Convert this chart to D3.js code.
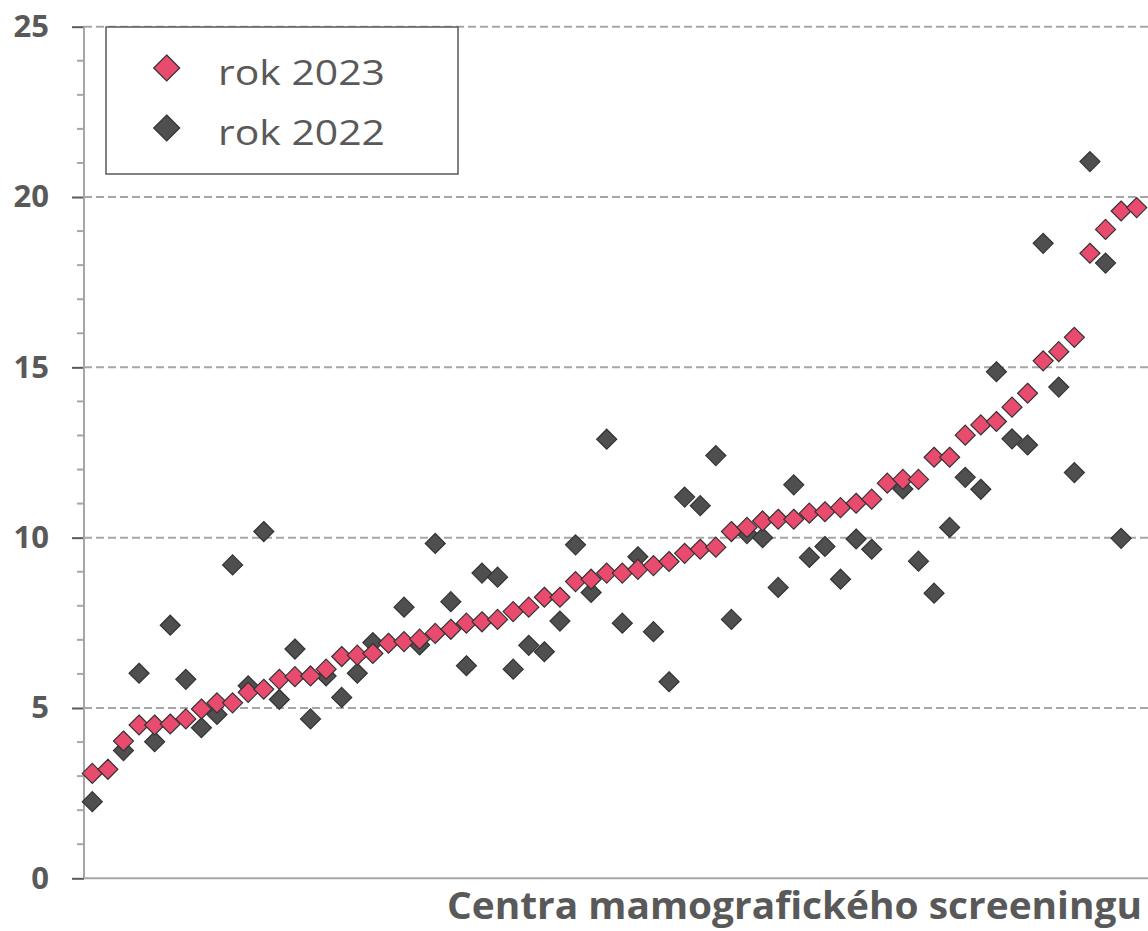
<!DOCTYPE html>
<html>
<head>
<meta charset="utf-8">
<script src="https://cdn.jsdelivr.net/npm/d3@7"></script>
<style>
  html, body { margin: 0; padding: 0; background: #ffffff; }
  svg { display: block; }
</style>
</head>
<body>
<svg id="chart" width="1148" height="931"></svg>
<script>
// ---- data ----
const centres = d3.range(68).map(i => "C" + (i + 1));
const series2023 = [3.08, 3.20, 4.03, 4.50, 4.50, 4.53, 4.68, 4.97, 5.15, 5.15,
  5.46, 5.55, 5.84, 5.92, 5.94, 6.14, 6.51, 6.55, 6.60, 6.90,
  6.95, 7.02, 7.19, 7.31, 7.49, 7.53, 7.60, 7.83, 7.96, 8.25,
  8.25, 8.71, 8.78, 8.96, 8.96, 9.07, 9.18, 9.30, 9.54, 9.66,
  9.72, 10.18, 10.30, 10.49, 10.54, 10.54, 10.72, 10.76, 10.88, 11.01,
  11.13, 11.60, 11.71, 11.71, 12.36, 12.36, 13.01, 13.31, 13.41, 13.83,
  14.24, 15.19, 15.46, 15.88, 18.35, 19.05, 19.59, 19.69];
const series2022 = [2.25, null, 3.75, 6.02, 4.01, 7.43, 5.84, 4.42, 4.81, 9.20,
  5.65, 10.18, 5.25, 6.73, 4.68, 5.94, 5.31, 6.02, 6.92, null,
  7.96, 6.85, 9.83, 8.12, 6.24, 8.96, 8.84, 6.14, 6.84, 6.65,
  7.55, 9.79, 8.39, 12.89, 7.49, 9.44, 7.24, 5.77, 11.19, 10.94,
  12.41, 7.60, 10.12, 10.00, 8.54, 11.55, 9.42, 9.74, 8.78, 9.96,
  9.66, null, 11.43, 9.31, 8.37, 10.30, 11.77, 11.42, 14.87, 12.90,
  12.72, 18.64, 14.42, 11.91, 21.04, 18.06, 9.98, null];
const yTicks = [0, 5, 10, 15, 20, 25];
const seriesNames = ["rok 2023", "rok 2022"];
const xTitle = "Centra mamografického screeningu";

// ---- styles ----
const pink = "#e94b6f";
const dark = "#4f4f4f";
const markerStroke = "#333333";
const textColor = "#595959";
const gridColor = "#a6a6a6";

const svg = d3.select("#chart");

const x = d3.scaleBand().domain(centres).range([84.5, 1144.5]);
const y = d3.scaleLinear().domain([0, 25]).range([878.3, 26.7]);
const cx = c => x(c) + x.bandwidth() / 2;

// gridlines
svg.append("g").selectAll("line").data(yTicks.filter(d => d > 0)).join("line")
  .attr("x1", 84).attr("x2", 1148)
  .attr("y1", d => y(d)).attr("y2", d => y(d))
  .attr("stroke", gridColor).attr("stroke-width", 2)
  .attr("stroke-dasharray", "8,4");

// minor ticks
svg.append("g").selectAll("line").data(d3.range(0, 26).filter(d => d % 5 !== 0)).join("line")
  .attr("x1", 77).attr("x2", 84)
  .attr("y1", d => y(d)).attr("y2", d => y(d))
  .attr("stroke", gridColor).attr("stroke-width", 2);

// y axis via d3.axisLeft
const yAxis = d3.axisLeft(y).tickValues(yTicks).tickSize(12).tickPadding(23).tickFormat(d3.format("d"));
const gy = svg.append("g").attr("transform", "translate(84,0)").call(yAxis);
gy.select(".domain").remove();
gy.selectAll(".tick line").attr("stroke", textColor).attr("stroke-width", 2);
gy.selectAll(".tick text")
  .attr("fill", textColor)
  .style("font-family", "'Open Sans', sans-serif")
  .style("font-weight", "700")
  .style("font-size", "31px");
svg.append("line").attr("x1", 84).attr("x2", 84).attr("y1", y(25)).attr("y2", y(0))
  .attr("stroke", gridColor).attr("stroke-width", 2);

// x axis line
svg.append("line").attr("x1", 84).attr("x2", 1148).attr("y1", y(0)).attr("y2", y(0))
  .attr("stroke", gridColor).attr("stroke-width", 2);

// x title
svg.append("text").text(xTitle)
  .attr("x", 447).attr("y", 919)
  .attr("textLength", 695).attr("lengthAdjust", "spacingAndGlyphs")
  .attr("fill", textColor)
  .style("font-family", "'Open Sans', sans-serif")
  .style("font-weight", "700")
  .style("font-size", "38px");

const diamond = r => `M0,${-r}L${r},0L0,${r}L${-r},0Z`;

// 2022 markers (below)
svg.append("g").selectAll("path")
  .data(centres.map((c, i) => ({ c, v: series2022[i] })).filter(d => d.v !== null))
  .join("path")
  .attr("d", diamond(10))
  .attr("transform", d => `translate(${cx(d.c)},${y(d.v)})`)
  .attr("fill", dark).attr("stroke", markerStroke).attr("stroke-width", 1.2);

// 2023 markers (on top)
svg.append("g").selectAll("path")
  .data(centres.map((c, i) => ({ c, v: series2023[i] })))
  .join("path")
  .attr("d", diamond(10))
  .attr("transform", d => `translate(${cx(d.c)},${y(d.v)})`)
  .attr("fill", pink).attr("stroke", markerStroke).attr("stroke-width", 1.2);

// legend
const lg = svg.append("g");
lg.append("rect").attr("x", 106).attr("y", 27).attr("width", 352).attr("height", 147)
  .attr("fill", "#ffffff").attr("stroke", textColor).attr("stroke-width", 1.5);
const legendColors = [pink, dark];
seriesNames.forEach((name, i) => {
  const yy = 68 + i * 60;
  lg.append("path").attr("d", diamond(13))
    .attr("transform", `translate(166.7,${yy})`)
    .attr("fill", legendColors[i]).attr("stroke", markerStroke).attr("stroke-width", 1.2);
  lg.append("text").text(name)
    .attr("x", 218).attr("y", yy + 17)
    .attr("textLength", 167).attr("lengthAdjust", "spacingAndGlyphs")
    .attr("fill", textColor)
    .style("font-family", "'Open Sans', sans-serif")
    .style("font-size", "34px");
});
</script>
</body>
</html>
